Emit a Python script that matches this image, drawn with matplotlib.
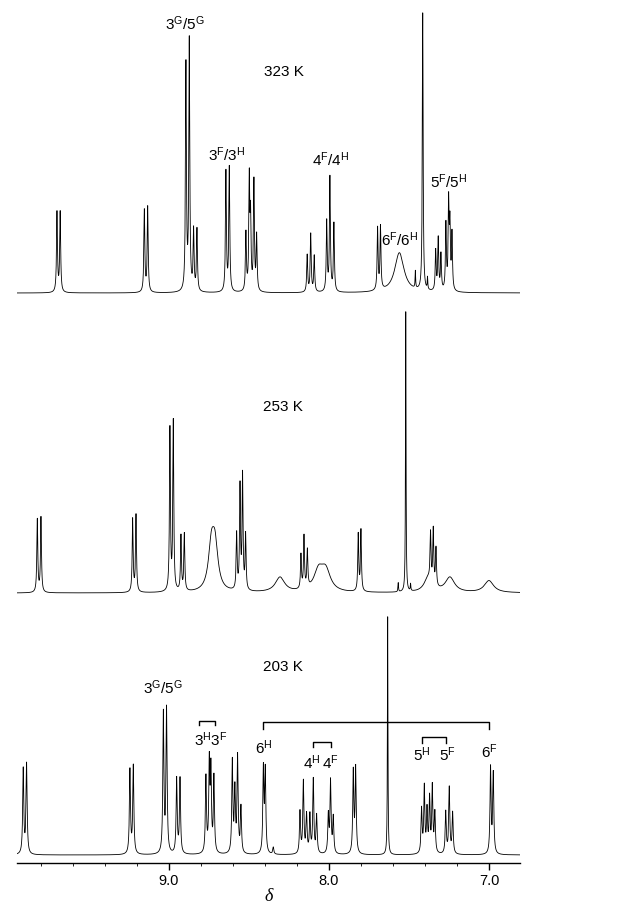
import numpy as np
import matplotlib
matplotlib.use('Agg')
import matplotlib.pyplot as plt
from matplotlib.ticker import MultipleLocator, FormatStrFormatter

plt.rcParams['font.family'] = ['Liberation Sans', 'DejaVu Sans']
plt.rcParams['mathtext.fontset'] = 'custom'
plt.rcParams['mathtext.rm'] = 'Liberation Sans'
plt.rcParams['mathtext.default'] = 'regular'

# peak tables: shift (ppm), height (px), half width (ppm)
t323_shift = [9.70, 9.68, 9.154, 9.133, 8.894, 8.873, 8.846, 8.825, 8.644, 8.623,
              8.519, 8.498, 8.490, 8.469, 8.452, 8.136, 8.114, 8.092,
              8.014, 7.994, 7.969, 7.696, 7.678, 7.56, 7.46, 7.414, 7.384,
              7.333, 7.317, 7.300, 7.269, 7.252, 7.244, 7.231]
t323_height = [80, 80, 82, 85, 226, 250, 60, 62, 120, 124,
               58, 110, 70, 110, 55, 37, 58, 36,
               70, 114, 68, 62, 63, 40, 17, 278, 12,
               40, 52, 36, 66, 86, 62, 56]
t323_width = [0.0035] * 23 + [0.035, 0.002, 0.003, 0.002] + [0.0035] * 7

t253_shift = [9.823, 9.80, 9.227, 9.206, 8.994, 8.973, 8.925, 8.904, 8.735, 8.712,
              8.577, 8.556, 8.540, 8.521, 8.306, 8.175, 8.156, 8.135,
              8.065, 8.02, 7.817, 7.80, 7.567, 7.52, 7.49,
              7.38, 7.365, 7.348, 7.331, 7.244, 7.0]
t253_height = [73, 75, 73, 77, 162, 169, 55, 57, 42, 42,
               56, 103, 114, 55, 15, 34, 52, 37,
               20, 20, 57, 61, 9, 280, 7,
               14, 48, 55, 38, 15, 12]
t253_width = [0.0035] * 8 + [0.022, 0.022] + [0.0035] * 4 + [0.035] + [0.0035] * 3 + \
             [0.035, 0.035, 0.0035, 0.0035, 0.002, 0.002, 0.002, 0.03, 0.0035, 0.0035, 0.0035, 0.035, 0.035]

t203_shift = [9.911, 9.89, 9.244, 9.223, 9.035, 9.015, 8.952, 8.931,
              8.769, 8.748, 8.738, 8.719, 8.604, 8.588, 8.571, 8.55,
              8.41, 8.398, 8.348, 8.181, 8.160, 8.140, 8.119, 8.098, 8.077,
              8.004, 7.990, 7.973, 7.848, 7.833, 7.633,
              7.421, 7.404, 7.387, 7.371, 7.354, 7.338,
              7.270, 7.248, 7.227, 6.99, 6.973]
t203_height = [85, 90, 84, 88, 140, 144, 75, 75,
               76, 88, 80, 76, 92, 62, 96, 46,
               84, 82, 7, 42, 72, 38, 38, 74, 38,
               38, 72, 36, 82, 85, 238,
               44, 66, 42, 54, 66, 40,
               42, 66, 41, 86, 80]
t203_width = [0.004] * 30 + [0.002] + [0.004] * 11

x = np.linspace(6.80, 9.96, 12000)


def spectrum(shifts, heights, widths):
    y = np.zeros_like(x)
    for s, h, w in zip(shifts, heights, widths):
        y += h * w ** 2 / ((x - s) ** 2 + w ** 2)
    return y


fig = plt.figure(figsize=(6.24, 9.17), dpi=100)
ax = fig.add_axes([17 / 624, 1 - 863 / 917, 503 / 624, 863 / 917])
ax.set_xlim(9.95, 6.806)
ax.set_ylim(0, 863)

for shifts, heights, widths, base in [(t323_shift, t323_height, t323_width, 570),
                                      (t253_shift, t253_height, t253_width, 270),
                                      (t203_shift, t203_height, t203_width, 8)]:
    ax.plot(x, base + spectrum(shifts, heights, widths), color='black', lw=0.6)

for s in ['top', 'left', 'right']:
    ax.spines[s].set_visible(False)
ax.spines['bottom'].set_linewidth(1.0)
ax.set_yticks([])
ax.xaxis.set_major_locator(MultipleLocator(1.0))
ax.xaxis.set_minor_locator(MultipleLocator(0.2))
ax.xaxis.set_major_formatter(FormatStrFormatter('%.1f'))
ax.tick_params(axis='x', which='major', length=5, width=1.0, labelsize=10.5, pad=3)
ax.tick_params(axis='x', which='minor', length=2, width=0.6)
ax.set_xlabel('δ', fontfamily='Liberation Serif', fontstyle='italic', fontsize=13, labelpad=0)

fs = 11
# 323 K
ax.text(8.90, 863 - 24, '3$^G$/5$^G$', ha='center', va='center', fontsize=fs)
ax.text(8.28, 863 - 72, '323 K', ha='center', va='center', fontsize=fs)
ax.text(8.64, 863 - 155, '3$^F$/3$^H$', ha='center', va='center', fontsize=fs)
ax.text(7.99, 863 - 160, '4$^F$/4$^H$', ha='center', va='center', fontsize=fs)
ax.text(7.56, 863 - 240, '6$^F$/6$^H$', ha='center', va='center', fontsize=fs)
ax.text(7.25, 863 - 182, '5$^F$/5$^H$', ha='center', va='center', fontsize=fs)
# 253 K
ax.text(8.29, 863 - 407, '253 K', ha='center', va='center', fontsize=fs)
# 203 K
ax.text(8.29, 863 - 667, '203 K', ha='center', va='center', fontsize=fs)
ax.text(9.04, 863 - 688, '3$^G$/5$^G$', ha='center', va='center', fontsize=fs)
ax.text(8.74, 863 - 740, '3$^H$3$^F$', ha='center', va='center', fontsize=fs)
ax.text(8.41, 863 - 748, '6$^H$', ha='center', va='center', fontsize=fs)
ax.text(8.11, 863 - 763, '4$^H$', ha='center', va='center', fontsize=fs)
ax.text(7.99, 863 - 763, '4$^F$', ha='center', va='center', fontsize=fs)
ax.text(7.42, 863 - 755, '5$^H$', ha='center', va='center', fontsize=fs)
ax.text(7.26, 863 - 755, '5$^F$', ha='center', va='center', fontsize=fs)
ax.text(7.00, 863 - 752, '6$^F$', ha='center', va='center', fontsize=fs)

# brackets
for x0, x1, ytop, drop in [(8.81, 8.71, 863 - 721, 4), (8.41, 7.00, 863 - 722, 7),
                           (8.10, 7.99, 863 - 742, 5), (7.42, 7.27, 863 - 737, 6)]:
    ax.plot([x0, x0, x1, x1], [ytop - drop, ytop, ytop, ytop - drop], color='black', lw=1.0)

plt.savefig('out.png', dpi=100)
